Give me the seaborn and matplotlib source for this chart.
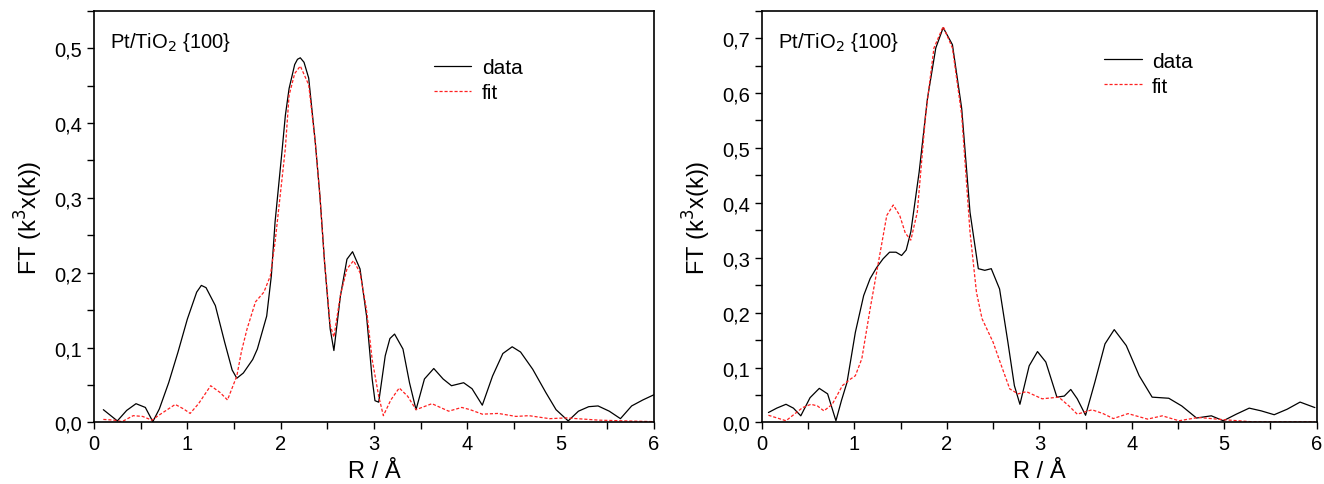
import matplotlib
matplotlib.use('Agg')
import matplotlib.pyplot as plt
from matplotlib.ticker import MultipleLocator, FuncFormatter
import seaborn as sns
import numpy as np

# left panel, Pt/TiO2 {100}
left_r_data = [0.10, 0.25, 0.35, 0.45, 0.55, 0.63, 0.70, 0.80, 0.90, 1.00, 1.10, 1.15, 1.20,
               1.30, 1.40, 1.48, 1.53, 1.60, 1.70, 1.75, 1.85, 1.90, 1.94, 2.01, 2.05, 2.09,
               2.15, 2.18, 2.21, 2.25, 2.30, 2.37, 2.42, 2.47, 2.53, 2.57, 2.64, 2.71, 2.77,
               2.85, 2.92, 2.98, 3.01, 3.05, 3.12, 3.17, 3.22, 3.31, 3.38, 3.45, 3.54, 3.64,
               3.74, 3.83, 3.96, 4.05, 4.16, 4.27, 4.38, 4.48, 4.57, 4.70, 4.84, 4.95, 5.08,
               5.19, 5.30, 5.40, 5.52, 5.64, 5.76, 5.88, 6.00]
left_v_data = [0.017, 0.002, 0.016, 0.025, 0.020, 0.001, 0.018, 0.053, 0.094, 0.138, 0.174,
               0.183, 0.180, 0.156, 0.107, 0.070, 0.059, 0.066, 0.084, 0.098, 0.142, 0.196,
               0.268, 0.357, 0.410, 0.446, 0.478, 0.485, 0.487, 0.481, 0.460, 0.375, 0.303,
               0.214, 0.125, 0.096, 0.169, 0.218, 0.228, 0.205, 0.142, 0.058, 0.029, 0.027,
               0.089, 0.112, 0.118, 0.098, 0.053, 0.017, 0.058, 0.072, 0.058, 0.049, 0.053,
               0.045, 0.023, 0.062, 0.092, 0.101, 0.094, 0.071, 0.040, 0.017, 0.002, 0.015,
               0.021, 0.022, 0.015, 0.005, 0.022, 0.030, 0.037]
left_r_fit = [0.10, 0.22, 0.30, 0.42, 0.52, 0.62, 0.70, 0.87, 0.96, 1.03, 1.12, 1.25, 1.35,
              1.43, 1.53, 1.58, 1.64, 1.73, 1.82, 1.89, 1.94, 2.05, 2.09, 2.15, 2.21, 2.30,
              2.37, 2.42, 2.47, 2.53, 2.57, 2.64, 2.71, 2.78, 2.85, 2.92, 2.98, 3.05, 3.10,
              3.18, 3.27, 3.36, 3.45, 3.62, 3.80, 3.94, 4.03, 4.16, 4.33, 4.52, 4.66, 4.88,
              5.06, 5.41, 5.70, 6.00]
left_v_fit = [0.004, 0.003, 0.001, 0.009, 0.008, 0.003, 0.010, 0.024, 0.018, 0.012, 0.025,
              0.049, 0.040, 0.030, 0.062, 0.095, 0.125, 0.161, 0.174, 0.196, 0.241, 0.366,
              0.437, 0.466, 0.476, 0.451, 0.375, 0.303, 0.214, 0.130, 0.114, 0.170, 0.205,
              0.216, 0.200, 0.150, 0.084, 0.035, 0.009, 0.030, 0.046, 0.035, 0.017, 0.025,
              0.015, 0.020, 0.017, 0.011, 0.012, 0.008, 0.009, 0.005, 0.006, 0.003, 0.002,
              0.001]

# right panel, Pt/TiO2 {100}
right_r_data = [0.07, 0.16, 0.26, 0.34, 0.42, 0.52, 0.62, 0.71, 0.80, 0.86, 0.92, 1.01, 1.10,
                1.17, 1.24, 1.31, 1.38, 1.45, 1.51, 1.56, 1.61, 1.70, 1.79, 1.88, 1.96, 2.06,
                2.16, 2.25, 2.34, 2.41, 2.48, 2.57, 2.66, 2.73, 2.79, 2.89, 2.98, 3.07, 3.19,
                3.27, 3.34, 3.41, 3.50, 3.60, 3.71, 3.81, 3.94, 4.08, 4.22, 4.40, 4.54, 4.70,
                4.86, 4.99, 5.13, 5.27, 5.40, 5.54, 5.68, 5.82, 5.98]
right_v_data = [0.018, 0.026, 0.033, 0.026, 0.012, 0.045, 0.062, 0.052, 0.003, 0.040, 0.073,
                0.164, 0.231, 0.262, 0.282, 0.298, 0.310, 0.310, 0.304, 0.314, 0.347, 0.456,
                0.590, 0.682, 0.719, 0.688, 0.572, 0.383, 0.280, 0.277, 0.280, 0.243, 0.146,
                0.067, 0.033, 0.103, 0.129, 0.110, 0.046, 0.048, 0.060, 0.043, 0.013, 0.073,
                0.143, 0.169, 0.140, 0.085, 0.046, 0.044, 0.030, 0.008, 0.012, 0.003, 0.015,
                0.026, 0.021, 0.014, 0.024, 0.037, 0.027]
right_r_fit = [0.07, 0.26, 0.35, 0.44, 0.53, 0.60, 0.67, 0.76, 0.87, 0.95, 1.01, 1.08, 1.17,
               1.26, 1.35, 1.42, 1.49, 1.55, 1.61, 1.68, 1.77, 1.86, 1.96, 2.06, 2.16, 2.25,
               2.32, 2.38, 2.50, 2.59, 2.68, 2.77, 2.86, 3.03, 3.21, 3.32, 3.41, 3.57, 3.69,
               3.80, 3.96, 4.17, 4.33, 4.51, 4.72, 4.99, 5.31, 5.98]
right_v_fit = [0.013, 0.003, 0.015, 0.027, 0.033, 0.030, 0.021, 0.033, 0.067, 0.078, 0.085,
               0.116, 0.207, 0.292, 0.377, 0.396, 0.377, 0.345, 0.332, 0.383, 0.560, 0.682,
               0.721, 0.682, 0.560, 0.347, 0.237, 0.189, 0.146, 0.103, 0.061, 0.052, 0.056,
               0.043, 0.046, 0.030, 0.015, 0.023, 0.016, 0.007, 0.016, 0.006, 0.012, 0.003,
               0.009, 0.005, 0.001, 0.001]

panels = [
    (left_r_data, left_v_data, left_r_fit, left_v_fit, 0.55, (0.588, 0.91)),
    (right_r_data, right_v_data, right_r_fit, right_v_fit, 0.75, (0.598, 0.926)),
]

sns.set_style("ticks")
plt.rcParams['font.family'] = ['Liberation Sans', 'DejaVu Sans']
plt.rcParams['text.color'] = 'black'
plt.rcParams['axes.labelcolor'] = 'black'

fig = plt.figure(figsize=(13.24, 4.85), dpi=100)
boxes = [[0.071, 0.127, 0.423, 0.849], [0.5755, 0.127, 0.419, 0.849]]

comma = FuncFormatter(lambda v, p: f"{v:.1f}".replace('.', ','))
comma0 = FuncFormatter(lambda v, p: f"{v:.0f}")

for box, (rd, vd, rf, vf, ytop, leg_xy) in zip(boxes, panels):
    ax = fig.add_axes(box)
    sns.lineplot(x=rd, y=vd, ax=ax, color='black', lw=0.9, label='data')
    sns.lineplot(x=rf, y=vf, ax=ax, color='#ff2020', lw=0.9, linestyle=(0, (2.5, 1.5)),
                 label='fit')
    ax.set_xlim(0, 6)
    ax.set_ylim(0, ytop)
    ax.xaxis.set_major_locator(MultipleLocator(1))
    ax.xaxis.set_minor_locator(MultipleLocator(0.5))
    ax.yaxis.set_major_locator(MultipleLocator(0.1))
    ax.yaxis.set_minor_locator(MultipleLocator(0.05))
    ax.yaxis.set_major_formatter(comma)
    ax.xaxis.set_major_formatter(comma0)
    ax.tick_params(which='both', direction='out', length=5, width=1, colors='black',
                   labelsize=14.5, top=False, right=False)
    for s in ax.spines.values():
        s.set_visible(True)
        s.set_color('black')
        s.set_linewidth(1.2)
    ax.set_xlabel('R / Å', fontsize=17, labelpad=5)
    ax.set_ylabel(r'FT (k$^3$x(k))', fontsize=17, labelpad=7)
    ax.text(0.029, 0.924, r'Pt/TiO$_2$ {100}', transform=ax.transAxes, fontsize=14.5,
            va='center', ha='left', color='black')
    leg = ax.legend(loc='upper left', bbox_to_anchor=leg_xy, frameon=False, fontsize=15,
                    borderpad=0, handlelength=1.8, handletextpad=0.5, labelspacing=0.3)
    for t in leg.get_texts():
        t.set_color('black')

fig.savefig('out.png', dpi=100)
